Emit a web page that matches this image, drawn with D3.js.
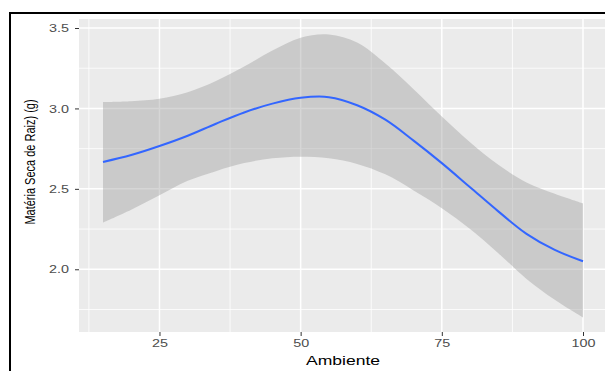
<!DOCTYPE html>
<meta charset="utf-8">
<style>
body { margin: 0; background: #fff; }
text { font-family: "Liberation Sans", Arial, sans-serif; }
</style>
<body>
<script src="https://d3js.org/d3.v7.min.js"></script>
<script>

// data (loess fit with confidence band)
var ambiente = [15, 20, 25, 30, 35, 40, 45, 50, 55, 60, 65, 70, 75, 80, 85, 90, 95, 100];
var fit      = [2.667, 2.71, 2.766, 2.83, 2.905, 2.975, 3.03, 3.066, 3.07, 3.02, 2.93, 2.80, 2.66, 2.51, 2.36, 2.22, 2.12, 2.05];
var upper    = [3.04, 3.045, 3.06, 3.10, 3.17, 3.26, 3.36, 3.44, 3.46, 3.41, 3.28, 3.12, 2.95, 2.79, 2.65, 2.54, 2.47, 2.41];
var lower    = [2.29, 2.37, 2.46, 2.55, 2.61, 2.66, 2.69, 2.70, 2.69, 2.655, 2.59, 2.49, 2.38, 2.25, 2.10, 1.94, 1.81, 1.70];
var xTicks   = [25, 50, 75, 100];
var yTicks   = [2.0, 2.5, 3.0, 3.5];

var data = ambiente.map(function(a, i) {
  return { x: a, y: fit[i], hi: upper[i], lo: lower[i] };
});

var W = 605, H = 371;
var panel = {left: 79, top: 19, right: 607, bottom: 332};

var svg = d3.select("body").append("svg")
    .attr("width", W)
    .attr("height", H);

// black frame of the screenshot
svg.append("rect")
    .attr("x", 10).attr("y", 13)
    .attr("width", W + 20).attr("height", H + 20)
    .attr("fill", "none")
    .attr("stroke", "#000")
    .attr("stroke-width", 2);

// ggplot expands the x range 5% each side
var xd = d3.extent(ambiente), xpad = (xd[1] - xd[0]) * 0.05;
var x = d3.scaleLinear()
    .domain([xd[0] - xpad, xd[1] + xpad])
    .range([panel.left, panel.right]);
var y = d3.scaleLinear()
    .domain([1.61, 3.556])
    .range([panel.bottom, panel.top]);

// panel background
svg.append("rect")
    .attr("x", panel.left).attr("y", panel.top)
    .attr("width", panel.right - panel.left)
    .attr("height", panel.bottom - panel.top)
    .attr("fill", "#EBEBEB");

// minor grid
var xMinor = [12.5, 37.5, 62.5, 87.5];
var yMinor = [1.75, 2.25, 2.75, 3.25];
svg.selectAll(".xminor").data(xMinor).enter().append("line")
    .attr("x1", d => x(d)).attr("x2", d => x(d))
    .attr("y1", panel.top).attr("y2", panel.bottom)
    .attr("stroke", "#fff").attr("stroke-width", 0.8);
svg.selectAll(".yminor").data(yMinor).enter().append("line")
    .attr("x1", panel.left).attr("x2", panel.right)
    .attr("y1", d => y(d)).attr("y2", d => y(d))
    .attr("stroke", "#fff").attr("stroke-width", 0.8);

// major grid
svg.selectAll(".xmajor").data(xTicks).enter().append("line")
    .attr("x1", d => x(d)).attr("x2", d => x(d))
    .attr("y1", panel.top).attr("y2", panel.bottom)
    .attr("stroke", "#fff").attr("stroke-width", 1.5);
svg.selectAll(".ymajor").data(yTicks).enter().append("line")
    .attr("x1", panel.left).attr("x2", panel.right)
    .attr("y1", d => y(d)).attr("y2", d => y(d))
    .attr("stroke", "#fff").attr("stroke-width", 1.5);

// confidence band
var band = d3.area()
    .x(d => x(d.x))
    .y0(d => y(d.lo))
    .y1(d => y(d.hi))
    .curve(d3.curveCatmullRom);
svg.append("path")
    .datum(data)
    .attr("d", band)
    .attr("fill", "#999999")
    .attr("fill-opacity", 0.4);

// fitted line
var line = d3.line()
    .x(d => x(d.x))
    .y(d => y(d.y))
    .curve(d3.curveCatmullRom);
svg.append("path")
    .datum(data)
    .attr("d", line)
    .attr("fill", "none")
    .attr("stroke", "#3366FF")
    .attr("stroke-width", 2);

// x axis
var xAxis = svg.append("g")
    .attr("transform", "translate(0," + panel.bottom + ")")
    .call(d3.axisBottom(x).tickValues(xTicks).tickSize(4).tickPadding(3)
          .tickFormat(d3.format("d")));
xAxis.select(".domain").remove();
xAxis.selectAll("line").attr("stroke", "#333");
xAxis.selectAll("text")
    .attr("fill", "#4D4D4D")
    .attr("font-size", 11.5)
    .attr("transform", "scale(1.25,1)");

// y axis
var yAxis = svg.append("g")
    .attr("transform", "translate(" + panel.left + ",0)")
    .call(d3.axisLeft(y).tickValues(yTicks).tickSize(4).tickPadding(0)
          .tickFormat(d3.format(".1f")));
yAxis.select(".domain").remove();
yAxis.selectAll("line").attr("stroke", "#333");
yAxis.selectAll("text")
    .attr("fill", "#4D4D4D")
    .attr("font-size", 11.5)
    .attr("x", -8)
    .attr("transform", "scale(1.25,1)");

// axis titles
svg.append("text")
    .attr("transform", "translate(343,365) scale(1.35,1)")
    .attr("text-anchor", "middle")
    .attr("font-size", 13)
    .attr("fill", "#000")
    .text("Ambiente");

svg.append("text")
    .attr("transform", "translate(35,162) scale(1.3,1) rotate(-90)")
    .attr("text-anchor", "middle")
    .attr("font-size", 11)
    .attr("fill", "#000")
    .text("Matéria Seca de Raiz) (g)");

</script>
</body>
